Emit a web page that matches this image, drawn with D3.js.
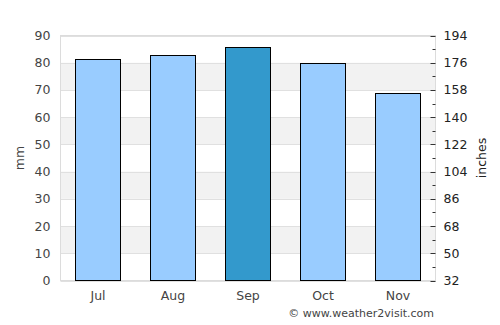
<!DOCTYPE html>
<html><head><meta charset="utf-8">
<script src="https://cdn.jsdelivr.net/npm/d3@7"></script>
<style>body{margin:0;background:#fff}svg{display:block;font-family:"DejaVu Sans",sans-serif}</style>
</head><body><svg id="c" width="500" height="325"></svg>
<script>
const months = ["Jul","Aug","Sep","Oct","Nov"];
const rainfall = [81.2, 82.5, 85.5, 79.6, 68.8];
const highlight = ["Sep"];
const leftTicks = [0,10,20,30,40,50,60,70,80,90];
const rightTicks = [32,50,68,86,104,122,140,158,176,194];

const svg = d3.select("#c");
const m = {l:60.5, r:435.5, t:35.5, b:280.5};
const x = d3.scaleBand().domain(months).range([m.l, m.r]).paddingInner(0.4).paddingOuter(0.2);
const y = d3.scaleLinear().domain([0,90]).range([m.b, m.t]);
const y2 = d3.scaleLinear().domain([32,194]).range([m.b, m.t]);

// bands
for (let i=0;i<leftTicks.length-1;i++){
  const v = leftTicks[i];
  if (i%2===1) svg.append("rect").attr("x",m.l).attr("width",m.r-m.l)
    .attr("y",y(v+10)).attr("height",y(v)-y(v+10)).attr("fill","#f2f2f2");
}
svg.append("g").selectAll("line").data(leftTicks).join("line")
  .attr("x1",m.l).attr("x2",m.r).attr("y1",d=>Math.round(y(d))+0.5).attr("y2",d=>Math.round(y(d))+0.5)
  .attr("stroke","#e0e0e0");
svg.append("rect").attr("x",m.l).attr("y",m.t).attr("width",m.r-m.l).attr("height",m.b-m.t)
  .attr("fill","none").attr("stroke","#dcdcdc");

// bars
svg.append("g").selectAll("rect").data(months).join("rect")
  .attr("x",d=>Math.floor(x(d))+0.5).attr("width",Math.round(x.bandwidth()))
  .attr("y",(d,i)=>Math.floor(y(rainfall[i]))+0.5)
  .attr("height",(d,i)=>m.b-(Math.floor(y(rainfall[i]))+0.5))
  .attr("fill",d=>highlight.includes(d)?"#3399cc":"#99ccff").attr("stroke","#000").attr("stroke-width",1);

// left axis
const la = svg.append("g").attr("transform",`translate(${m.l},0)`)
  .call(d3.axisLeft(y).tickValues(leftTicks).tickSize(0).tickPadding(10));
la.select(".domain").remove();
la.selectAll("text").attr("font-size",12.5).attr("fill","#444").attr("font-family","DejaVu Sans");

// right axis
const ra = svg.append("g").attr("transform",`translate(${m.r},0)`)
  .call(d3.axisRight(y2).tickValues(rightTicks).tickSize(0).tickPadding(8));
ra.select(".domain").remove();
ra.selectAll("text").attr("font-size",12.5).attr("fill","#222").attr("font-family","DejaVu Sans");
const minor = d3.range(32,195,9);
svg.append("g").selectAll("line").data(minor).join("line")
  .attr("x1",(d,i)=>i%2===0?m.r-5:m.r-3).attr("x2",m.r).attr("y1",d=>Math.round(y2(d))+0.5).attr("y2",d=>Math.round(y2(d))+0.5)
  .attr("stroke","#333");

// bottom axis
const ba = svg.append("g").attr("transform",`translate(0,${m.b})`)
  .call(d3.axisBottom(x).tickSize(0).tickPadding(11));
ba.select(".domain").remove();
ba.selectAll("text").attr("font-size",12.5).attr("fill","#444").attr("font-family","DejaVu Sans");

// titles
svg.append("text").attr("transform",`translate(24,${(m.t+m.b)/2}) rotate(-90)`)
  .attr("text-anchor","middle").attr("font-size",12.5).attr("fill","#444").text("mm");
svg.append("text").attr("transform",`translate(486,${(m.t+m.b)/2}) rotate(-90)`)
  .attr("text-anchor","middle").attr("font-size",12.5).attr("fill","#222").text("inches");
svg.append("text").attr("x",434).attr("y",317).attr("text-anchor","end")
  .attr("font-size",11).attr("fill","#444").text("© www.weather2visit.com");
</script></body></html>
